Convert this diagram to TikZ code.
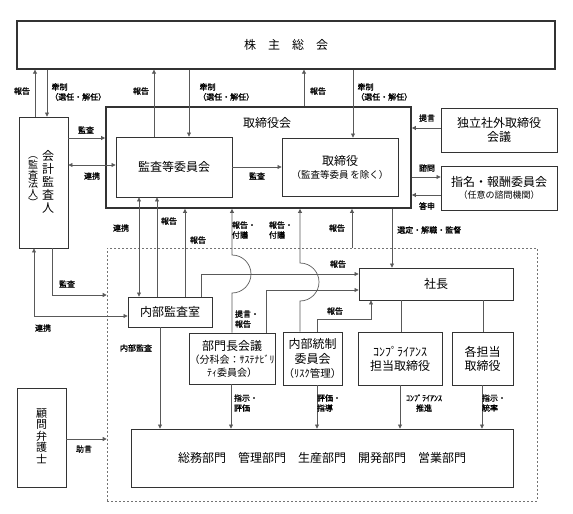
\documentclass[tikz,border=0pt]{standalone}
\usepackage{fontspec}
\setmainfont{Noto Sans CJK JP}[AutoFakeBold=1.2]
\usetikzlibrary{arrows.meta}
\tikzset{
  box/.style={draw=black!80, line width=0.9pt, inner sep=0pt, align=center, font=\fontsize{12}{14}\selectfont},
  lbl/.style={font=\fontsize{8}{10}\selectfont\bfseries, inner sep=0pt, align=left},
  conn/.style={draw=black!65, line width=0.7pt},
  arr/.style={conn, -{Triangle[length=4pt,width=4pt]}},
  darr/.style={conn, {Triangle[length=4pt,width=4pt]}-{Triangle[length=4pt,width=4pt]}},
  dbox/.style={draw=black!55, line width=0.6pt, dash pattern=on 2pt off 2pt, inner sep=0pt},
}
\begin{document}
\begin{tikzpicture}[x=1pt,y=-1pt]
\useasboundingbox (0,0) rectangle (573,514);
% boxes
\node[box, line width=1.3pt, minimum width=538pt, minimum height=48pt] (kabu) at (286,45) {株　主　総　会};
\node[box, minimum width=49pt, minimum height=131pt] (kaikei) at (43.5,182.5) {};
\node[inner sep=0pt, align=center, font=\fontsize{12}{13}\selectfont] (kaikeiT) at (48,181.5) {会\\計\\監\\査\\人};
\node[inner sep=0pt, align=center, font=\fontsize{10}{9.6}\selectfont] (kaikeiS) at (33,182) {︵\\監\\査\\法\\人\\︶};
\node[box, line width=1.8pt, minimum width=305pt, minimum height=101pt] (bod) at (258.5,157.5) {};
\node[inner sep=0pt, font=\fontsize{12}{14}\selectfont] (bodT) at (267,123) {取締役会};
\node[box, minimum width=116pt, minimum height=60pt] (kansa) at (174,167) {監査等委員会};
\node[box, minimum width=116pt, minimum height=58pt] (tori) at (340,167) {取締役\\[-1pt]{\fontsize{9.5}{11}\selectfont （監査等委員\,を除く）}};
\node[box, minimum width=116pt, minimum height=44pt] (dokuritsu) at (499,130) {独立社外取締役\\会議};
\node[box, minimum width=116pt, minimum height=44pt] (shimei) at (499,188) {指名・報酬委員会\\[-2pt]{\fontsize{9}{11}\selectfont （任意の諮問機関）}};
\node[dbox, minimum width=430pt, minimum height=253pt] (exec) at (322,374.5) {};
\node[box, minimum width=154pt, minimum height=32pt] (shacho) at (436,284) {社長};
\node[box, minimum width=84pt, minimum height=30pt] (naibu) at (170,312) {内部監査室};
\node[box, minimum width=86pt, minimum height=51pt] (bumon) at (232,358.5) {部門長会議\\[-1pt]{\fontsize{10}{13}\selectfont （分科会：ｻｽﾃﾅﾋﾞﾘ}\\[-1pt]{\fontsize{10}{13}\selectfont ﾃｨ委員会）}};
\node[box, minimum width=59pt, minimum height=53pt, font=\fontsize{12}{14.5}\selectfont] (naitou) at (312.5,358.5) {内部統制\\委員会\\{\fontsize{10.5}{12}\selectfont （ﾘｽｸ管理）}};
\node[box, minimum width=84pt, minimum height=53pt] (compli) at (400,358.5) {ｺﾝﾌﾟﾗｲｱﾝｽ\\担当取締役};
\node[box, minimum width=61pt, minimum height=53pt] (kakutan) at (482.5,358.5) {各担当\\取締役};
\node[box, minimum width=382pt, minimum height=58pt] (depts) at (322,458) {総務部門　管理部門　生産部門　開発部門　営業部門};
\node[box, minimum width=49pt, minimum height=99pt] (komon) at (41.5,437.5) {};
\node[inner sep=0pt, align=center, font=\fontsize{11}{11.5}\selectfont] (komonT) at (41.5,436) {顧\\問\\弁\\護\\士};

% shareholders connectors
\draw[arr] (kaikei.north -| 35,0) -- (kabu.south -| 35,0);
\node[lbl] (l1) at (22,91) {報告};
\draw[arr] (kabu.south -| 47,0) -- (kaikei.north -| 47,0);
\node[lbl, anchor=west] (l2) at (50,92) {\,牽制\\（選任・解任）};
\draw[arr] (kansa.north -| 154,0) -- (kabu.south -| 154,0);
\node[lbl] (l3) at (141,91) {報告};
\draw[arr] (kabu.south -| 189,0) -- (kansa.north -| 189,0);
\node[lbl, anchor=west] (l4) at (198,92) {\,牽制\\（選任・解任）};
\draw[arr] (bod.north -| 304,0) -- (kabu.south -| 304,0);
\node[lbl] (l5) at (318,91) {報告};
\draw[arr] (kabu.south -| 353,0) -- (tori.north -| 353,0);
\node[lbl, anchor=west] (l6) at (356,92) {\,牽制\\（選任・解任）};

% auditor - board
\draw[arr] (kaikei.east |- 0,138) -- (bod.west |- 0,138);
\node[lbl] (l7) at (86,130) {監査};
\draw[darr] (kaikei.east |- 0,165) -- (kansa.west |- 0,165);
\node[lbl] (l8) at (92,176) {連携};
\draw[arr] (kansa.east) -- (tori.west);
\node[lbl] (l9) at (257,176) {監査};

% right side
\draw[arr] (dokuritsu.west |- 0,128) -- (bod.east |- 0,128);
\node[lbl] (l10) at (427,118) {提言};
\draw[arr] (bod.east |- 0,177) -- (shimei.west |- 0,177);
\node[lbl] (l11) at (427,168) {諮問};
\draw[arr] (shimei.west |- 0,195) -- (bod.east |- 0,195);
\node[lbl] (l12) at (427,206) {答申};

% board - executive
\draw[arr] (bod.south -| 392,0) -- (shacho.north -| 392,0);
\node[lbl, anchor=west] (l13) at (397,230) {選定・解職・監督};
\draw[arr] (exec.north -| 352,0) -- (bod.south -| 352,0);
\node[lbl] (l14) at (337,228) {報告};
\draw[darr] (kansa.south -| 139,0) -- (naibu.north -| 139,0);
\node[lbl] (l15) at (121,228) {連携};
\draw[arr] (naibu.north -| 157,0) -- (kansa.south -| 157,0);
\node[lbl] (l16) at (169,221) {報告};
\draw[arr] (naibu.north -| 185,0) -- (bod.south -| 185,0);
\node[lbl] (l17) at (198,240) {報告};
\draw[arr] (bumon.north) -- (232,293) arc[start angle=90, end angle=-90, radius=19] -- (bod.south -| 232,0);
\node[lbl] (l18) at (244,230) {報告・\\付議};
\draw[arr] (naitou.north -| 300,0) -- (300,301) arc[start angle=90, end angle=-90, radius=19] -- (bod.south -| 300,0);
\node[lbl] (l19) at (281,230) {報告・\\付議};

% to president
\draw[arr] (naibu.north -| 201,0) -- (201,274) -- (shacho.west |- 0,274);
\node[lbl] (l20) at (338,264) {報告};
\draw[arr] (bumon.north -| 266,0) -- (266,290) -- (shacho.west |- 0,290);
\node[lbl] (l21) at (247,319) {提言・\\報告};
\draw[arr] (naitou.north -| 317,0) -- (317,319) -- (371,319) -- (shacho.south -| 371,0);
\node[lbl] (l22) at (335,311) {報告};
\draw[conn] (shacho.south -| 401,0) -- (compli.north -| 401,0);
\draw[conn] (shacho.south -| 483,0) -- (kakutan.north -| 483,0);

% down to departments
\draw[arr] (naibu.south -| 160,0) -- (depts.north -| 160,0);
\node[lbl] (l23) at (136,348) {内部監査};
\draw[arr] (bumon.south -| 231,0) -- (depts.north -| 231,0);
\node[lbl] (l24) at (246,403) {指示・\\評価};
\draw[arr] (naitou.south -| 317,0) -- (depts.north -| 317,0);
\node[lbl] (l25) at (329,403) {評価・\\指導};
\draw[arr] (compli.south -| 400,0) -- (depts.north -| 400,0);
\node[lbl, align=center] (l26) at (424,403) {ｺﾝﾌﾟﾗｲｱﾝｽ\\推進};
\draw[arr] (kakutan.south -| 482,0) -- (depts.north -| 482,0);
\node[lbl] (l27) at (494,403) {指示・\\統率};

% auditor lower
\draw[arr] (kaikei.south -| 52,0) -- (52,295) -- (exec.west |- 0,295);
\node[lbl] (l28) at (67,284) {監査};
\draw[darr] (kaikei.south -| 34,0) -- (34,316) -- (naibu.west |- 0,316);
\node[lbl] (l29) at (43,328) {連携};
\draw[arr] (komon.east |- 0,439) -- (exec.west |- 0,439);
\node[lbl] (l30) at (84,449) {助言};
\end{tikzpicture}
\end{document}
